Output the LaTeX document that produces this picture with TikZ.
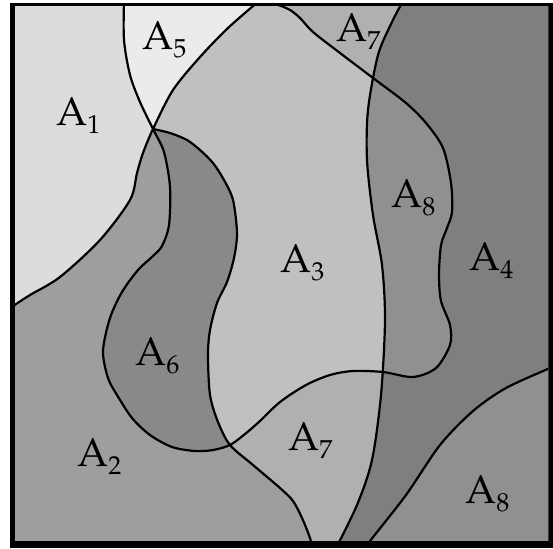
\documentclass[tikz,border=0pt]{standalone}
\usepackage{fontspec}
\setmainfont{TeX Gyre Pagella}
\definecolor{colAone}{gray}{0.863}
\definecolor{colAtwo}{gray}{0.62}
\definecolor{colAthree}{gray}{0.753}
\definecolor{colAfour}{gray}{0.498}
\definecolor{colAfive}{gray}{0.922}
\definecolor{colAsix}{gray}{0.537}
\definecolor{colAseven}{gray}{0.69}
\definecolor{colAeight}{gray}{0.565}
\newcommand{\Alab}[1]{A\raisebox{-8pt}{\fontsize{26}{26}\selectfont #1}}
\def\cOne{plot[smooth] coordinates {(124,1) (124,40) (130,75) (140,102) (153,129) (164,152) (170,187) (169,225) (162,246) (153,256) (138,270) (122,292) (110,318) (103,351) (108,378) (117,395) (132,418) (150,435) (172,447) (195,451) (213,450) (230,445) (245,434) (260,421) (280,402) (306,385) (330,375) (353,371) (383,372) (413,377) (436,368) (450,345) (450,325) (441,301) (439,275) (441,245) (447,228) (452,212) (451,183) (443,148) (426,123) (406,103) (373,78) (340,53) (313,32) (300,18) (290,10) (278,5) (265,3)}}
\def\cTwo{plot[smooth] coordinates {(259,1) (228,28) (200,57) (173,90) (153,129) (143,153) (137,173) (130,200) (100,240) (60,277) (30,295) (13,306) (6,310)}}
\def\ptsThree{(153,129) (170,133) (187,140) (200,150) (213,163) (224,180) (233,200) (237,233) (234,258) (227,282) (217,303) (210,330) (208,355) (210,395) (218,422) (230,445) (253,465) (280,488) (293,501) (302,518) (310,538) (313,550)}
\edef\cThree{plot[smooth] coordinates {\ptsThree}}
\edef\cThreeC{-- plot[smooth] coordinates {\ptsThree}}
\def\cFour{plot[smooth] coordinates {(403,1) (392,22) (378,55) (368,110) (367,160) (373,215) (382,265) (385,320) (381,395) (372,460) (357,505) (335,550)}}
\def\cFive{plot[smooth] coordinates {(556,365) (550,368) (506,388) (473,411) (440,445) (406,495) (370,541) (364,550)}}
\begin{document}
\begin{tikzpicture}[x=1pt,y=-1pt,
  ln/.style={line width=2.2pt, line join=round},
  lab/.style={anchor=base west, inner sep=0pt, font=\fontsize{40}{40}\selectfont}]
\useasboundingbox (0,0) rectangle (553,548);
\fill[black] (10,3) rectangle (553,548);
\begin{scope}
  \clip (15,7) rectangle (548,540);
  \fill[colAtwo] (0,0) rectangle (560,560);
  \fill[colAseven] (153,0) \cThreeC -- (560,550) -- (560,0) -- cycle;
  \fill[colAfour] \cFour -- (560,550) -- (560,0) -- cycle;
  \fill[colAeight] \cFive -- (560,550) -- cycle;
  \fill[colAone] \cTwo -- (0,309) -- (0,0) -- (259,0) -- cycle;
  \fill[colAthree] \cOne -- (265,0) -- (124,0) -- cycle;
  \begin{scope}
    \clip \cOne -- (265,0) -- (124,0) -- cycle;
    \fill[colAeight] \cFour -- (560,550) -- (560,0) -- cycle;
    \fill[colAsix] \cThree -- (313,560) -- (0,560) -- (0,129) -- cycle;
    \fill[colAfive] \cTwo -- (0,309) -- (0,0) -- (259,0) -- cycle;
  \end{scope}
  \draw[ln] \cOne;
  \draw[ln] \cTwo;
  \draw[ln] \cThree;
  \draw[ln] \cFour;
  \draw[ln] \cFive;
\end{scope}
\node[lab] (a1) at (56,126) {\Alab{1}};
\node[lab] (a5) at (142,50) {\Alab{5}};
\node[lab] (a7t) at (336,42) {\Alab{7}};
\node[lab] (a8t) at (391,207) {\Alab{8}};
\node[lab] (a3) at (280,272) {\Alab{3}};
\node[lab] (a4) at (469,270) {\Alab{4}};
\node[lab] (a6) at (135,365) {\Alab{6}};
\node[lab] (a2) at (77,466) {\Alab{2}};
\node[lab] (a7b) at (288,450) {\Alab{7}};
\node[lab] (a8b) at (465,503) {\Alab{8}};
\end{tikzpicture}
\end{document}
